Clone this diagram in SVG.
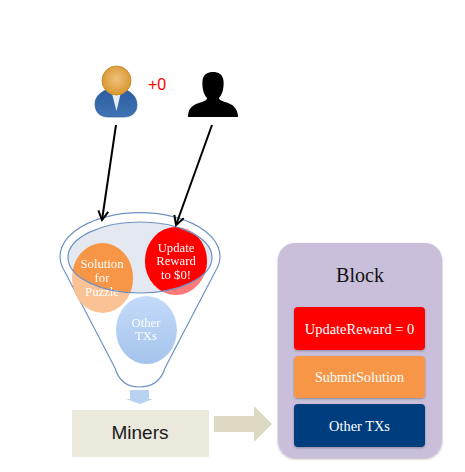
<svg xmlns="http://www.w3.org/2000/svg" width="465" height="472" viewBox="0 0 465 472">
<style>
.s{font-family:"Liberation Serif",serif;text-anchor:middle}
.w{fill:#fff}
.o{fill:#f79646}
.r{fill:#ff0000}
.line{fill:none;stroke:#6f93c4;stroke-width:1.2}
.tx{stroke:#000;stroke-width:2;fill:none;marker-end:url(#ah)}
.in{filter:url(#sh)}
</style>
<defs>
<marker id="ah" viewBox="0 0 12 12" refX="10" refY="6" markerWidth="12" markerHeight="12" markerUnits="userSpaceOnUse" orient="auto"><path d="M1 1L10 6L1 11" fill="none" stroke="#000" stroke-width="2"/></marker>
<clipPath id="ie"><ellipse cx="140" cy="257.500" rx="72" ry="35.500"/></clipPath>
<radialGradient id="head" cx="50%" cy="45%" r="55%"><stop offset="0" stop-color="#f0c27c"/><stop offset="1" stop-color="#d8962f"/></radialGradient>
<linearGradient id="blue" x1="0" y1="0" x2="0" y2="1"><stop offset="0" stop-color="#c4dafa"/><stop offset="1" stop-color="#a5c4ec"/></linearGradient>
<linearGradient id="suit" x1="0" y1="0" x2="0" y2="1"><stop offset="0" stop-color="#2a5c9f"/><stop offset="1" stop-color="#4074b4"/></linearGradient>
<filter id="sh" x="-10%" y="-15%" width="120%" height="135%"><feDropShadow dx="0" dy="1" stdDeviation="1" flood-color="#000" flood-opacity="0.3"/></filter>
<filter id="soft" x="-5%" y="-5%" width="110%" height="110%"><feGaussianBlur stdDeviation="0.35"/></filter>
</defs>
<g id="miner-user" filter="url(#soft)">
<path d="M95 104C95 95 103 91 110 88L122 88C129 91 137 95 137 105C137 113 131 117 124 117H108C100 117 95 112 95 104Z" fill="url(#suit)" stroke="#234f8c" stroke-width="0.6"/>
<path d="M111 90L116.500 111L121.500 90Z" fill="#e8eef6"/>
<circle cx="116.500" cy="80.500" r="14.500" fill="url(#head)" stroke="#c98a30"/>
</g>
<text id="reward" x="157" y="90" font-family="Liberation Sans,sans-serif" font-size="16" fill="#ff0000" text-anchor="middle">+0</text>
<g id="attacker-user" filter="url(#soft)">
<path d="M188 117C188 109 192 105 199 103C205 101 207 100 207 98C203 94 202 86 202.500 81C203 74 208 72 213 72C218 72 223 74 223.500 81C224 86 223 94 219 98C219 100 222 101 228 103C234 105 238 110 238 117Z" fill="#000"/>
</g>
<g id="funnel">
<path class="line" d="M65 272A80 44 0 1 1 215 272L165 368C162 378 155 387 139 387C124 387 118 378 115 368Z" fill="#fff"/>
<ellipse cx="140" cy="257.500" rx="72" ry="35.500" fill="#e3e8f1"/>
</g>
<g id="tx-solution">
<ellipse cx="102.500" cy="278" rx="30.500" ry="35" fill="#fbc296"/>
<ellipse cx="102.500" cy="278" rx="30.500" ry="35" class="o" clip-path="url(#ie)"/>
<text class="s w" font-size="12.700" filter="url(#soft)"><tspan x="102" y="268">Solution</tspan><tspan x="102" y="282">for</tspan><tspan x="102" y="296">Puzzle</tspan></text>
</g>
<g id="tx-update">
<ellipse cx="176" cy="261" rx="31" ry="34" fill="#ff7a7a"/>
<ellipse cx="176" cy="261" rx="31" ry="34" class="r" clip-path="url(#ie)"/>
<text class="s w" font-size="12.700" filter="url(#soft)"><tspan x="176" y="252">Update</tspan><tspan x="176" y="265">Reward</tspan><tspan x="176" y="279">to $0!</tspan></text>
</g>
<g id="tx-other">
<ellipse cx="146.500" cy="330" rx="30.500" ry="34" fill="url(#blue)"/>
<text class="s w" font-size="12.700" filter="url(#soft)"><tspan x="146" y="327">Other</tspan><tspan x="146" y="340">TXs</tspan></text>
</g>
<ellipse class="line" cx="140" cy="257.500" rx="72" ry="35.500"/>
<path id="funnel-spout" d="M130 390H149V399H153L140 404L126 399H130Z" fill="#b9d2f2" filter="url(#soft)"/>
<g id="miners">
<rect x="72" y="410" width="137" height="47" fill="#ebe8dc"/>
<text x="140" y="439" font-family="Liberation Sans,sans-serif" font-size="19" fill="#1a1a1a" text-anchor="middle">Miners</text>
</g>
<g id="block">
<rect x="278" y="243" width="164" height="215" rx="17" fill="#c9bfdb" filter="url(#sh)"/>
<text class="s" x="360" y="282" font-size="20" fill="#111">Block</text>
</g>
<g id="block-update">
<rect class="in r" x="294" y="307" width="131" height="43" rx="4"/>
<text class="s w" x="359.500" y="334" font-size="14.500">UpdateReward = 0</text>
</g>
<g id="block-solution">
<rect class="in o" x="294" y="356" width="131" height="42" rx="4"/>
<text class="s w" x="359.500" y="382" font-size="14.200">SubmitSolution</text>
</g>
<g id="block-other">
<rect class="in" x="294" y="404" width="131" height="43" rx="4" fill="#033e7e"/>
<text class="s w" x="359.500" y="431" font-size="14.400">Other TXs</text>
</g>
<g id="connectors">
<path class="tx" d="M116 125L102 220"/>
<path class="tx" d="M212 125L176 225"/>
<path d="M214 416H254V406L272 424L254 442V432H214Z" fill="#ddd9c3"/>
</g>
</svg>
